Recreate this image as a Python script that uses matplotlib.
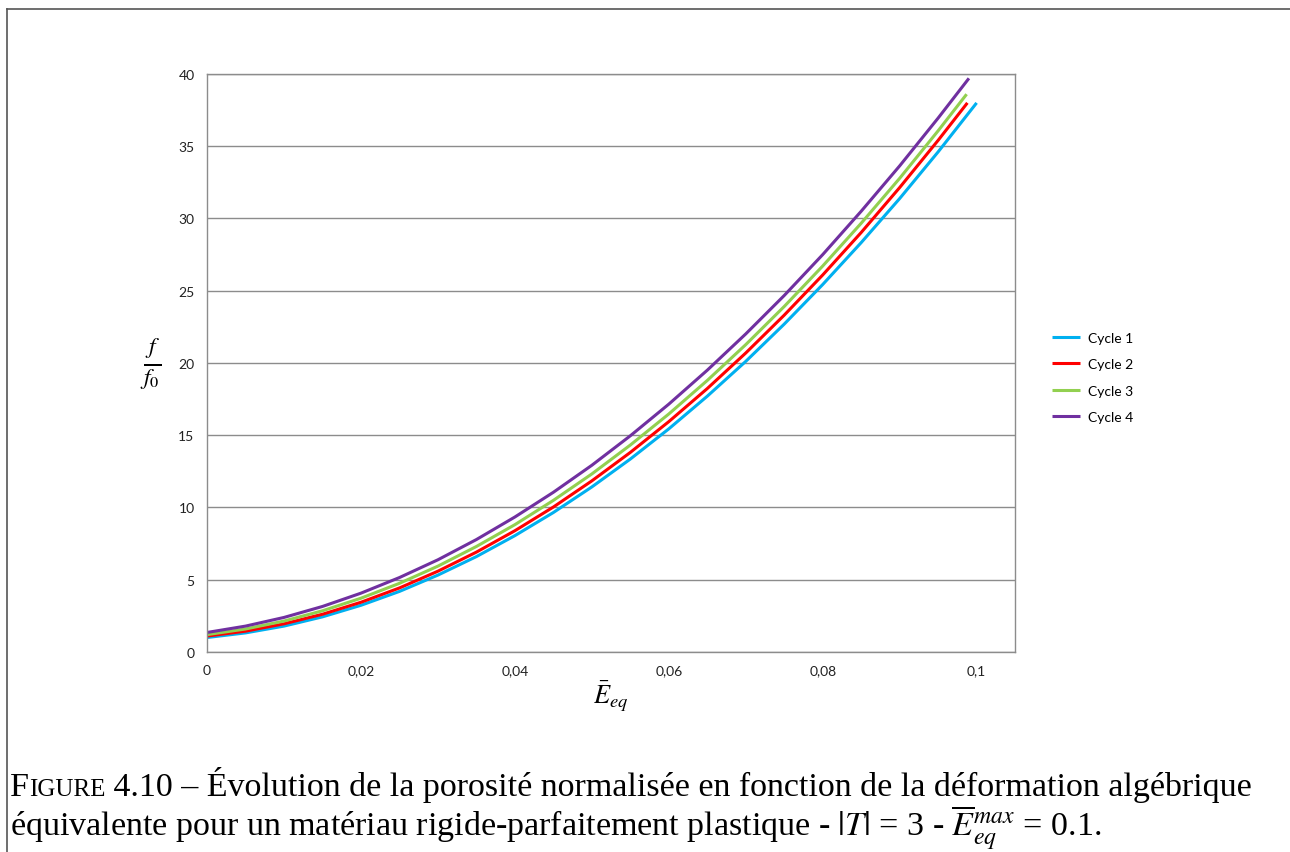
import matplotlib
matplotlib.use("Agg")
import matplotlib.pyplot as plt
from matplotlib.lines import Line2D

# Valeurs (f/f0 en fonction de E_eq)
x_grid = [0.0, 0.005, 0.01, 0.015, 0.02, 0.025, 0.03, 0.035, 0.04, 0.045,
          0.05, 0.055, 0.06, 0.065, 0.07, 0.075, 0.08, 0.085, 0.09, 0.095]

cycle1_y = [1.00, 1.32, 1.79, 2.43, 3.23, 4.19, 5.32, 6.60, 8.05, 9.65,
            11.42, 13.35, 15.44, 17.70, 20.11, 22.69, 25.43, 28.33, 31.38, 34.61, 38.0]
cycle2_y = [1.10, 1.44, 1.95, 2.61, 3.44, 4.43, 5.59, 6.91, 8.39, 10.03,
            11.84, 13.81, 15.94, 18.23, 20.69, 23.31, 26.09, 29.03, 32.14, 35.41, 38.0]
cycle3_y = [1.20, 1.59, 2.14, 2.85, 3.72, 4.75, 5.94, 7.30, 8.81, 10.49,
            12.32, 14.32, 16.47, 18.79, 21.27, 23.91, 26.71, 29.67, 32.78, 36.07, 38.6]
cycle4_y = [1.35, 1.79, 2.39, 3.15, 4.07, 5.15, 6.38, 7.78, 9.34, 11.05,
            12.92, 14.96, 17.15, 19.50, 22.01, 24.67, 27.50, 30.50, 33.64, 36.95, 39.7]

# dernier point de chaque cycle (fin du chargement)
x_fin = [0.1, 0.0988, 0.0987, 0.099]

noms = ["Cycle 1", "Cycle 2", "Cycle 3", "Cycle 4"]
couleurs = ["#00B0F0", "#FF0000", "#92D050", "#7030A0"]

x_ticks = [0, 0.02, 0.04, 0.06, 0.08, 0.1]
x_labels = ["0", "0,02", "0,04", "0,06", "0,08", "0,1"]
y_ticks = [0, 5, 10, 15, 20, 25, 30, 35, 40]

plt.rcParams["mathtext.fontset"] = "stix"
plt.rcParams["font.family"] = ["Lato", "DejaVu Sans"]

fig = plt.figure(figsize=(12.9, 8.53), dpi=100)
ax = fig.add_axes([0.1605, 0.2345, 0.6264, 0.6776])

series = [cycle1_y, cycle2_y, cycle3_y, cycle4_y]
for ys, xf, nom, c in zip(series, x_fin, noms, couleurs):
    ax.plot(x_grid + [xf], ys, color=c, lw=2.2, label=nom, solid_capstyle="butt")

ax.set_xlim(0, 0.105)
ax.set_ylim(0, 40)
ax.set_xticks(x_ticks)
ax.set_xticklabels(x_labels)
ax.set_yticks(y_ticks)
ax.tick_params(length=0, labelsize=10, colors="#222222", pad=9)
ax.yaxis.grid(True, color="#8c8c8c", lw=1)
ax.set_axisbelow(True)
for s in ax.spines.values():
    s.set_color("#8c8c8c")
    s.set_linewidth(1)

ax.set_xlabel(r"$\bar{E}_{eq}$", fontsize=19, labelpad=1)
ax.set_ylabel(r"$\frac{f}{f_0}$", fontsize=24, rotation=0, labelpad=20, va="center")

leg = ax.legend(loc="center left", bbox_to_anchor=(1.03, 0.475), frameon=False,
                fontsize=10, handlelength=2.0, handletextpad=0.6, labelspacing=1.05)

# cadre de la figure (haut et gauche)
fig.add_artist(Line2D([7 / 1290, 1.0], [1 - 10 / 853] * 2, color="#555555", lw=1.2))
fig.add_artist(Line2D([7 / 1290] * 2, [0, 1 - 10 / 853], color="#555555", lw=1.2))

# légende de la figure (petites capitales pour "Figure")
serif = ["Liberation Serif", "DejaVu Serif"]
fig.canvas.draw()
r = fig.canvas.get_renderer()
y1 = 1 - 796 / 853
y2 = 1 - 836 / 853
t1 = fig.text(10 / 1290, y1, "F", fontsize=24.5, family=serif, va="baseline")
bb = t1.get_window_extent(r)
t2 = fig.text(bb.x1 / 1290, y1, "IGURE", fontsize=18, family=serif, va="baseline")
bb = t2.get_window_extent(r)
fig.text(bb.x1 / 1290, y1,
         " 4.10 – Évolution de la porosité normalisée en fonction de la déformation algébrique",
         fontsize=24.5, family=serif, va="baseline")
fig.text(10 / 1290, y2,
         r"équivalente pour un matériau rigide-parfaitement plastique - $|T|$ = 3 - "
         r"$\overline{E}_{eq}^{max}$ = 0.1.",
         fontsize=24.5, family=serif, va="baseline")

fig.savefig("out.png", dpi=100)
